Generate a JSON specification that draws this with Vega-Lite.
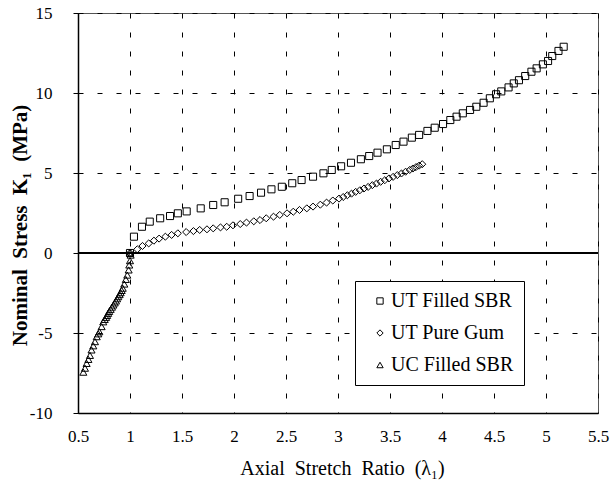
{
  "$schema": "https://vega.github.io/schema/vega-lite/v6.json",
  "width": 520,
  "height": 400,
  "autosize": {"type": "none"},
  "padding": {"left": 78, "top": 13, "right": 15, "bottom": 75},
  "background": "white",
  "config": {
    "font": "Liberation Serif",
    "view": {"stroke": "#555555", "strokeWidth": 1},
    "axis": {
      "grid": true,
      "gridColor": "black",
      "gridDash": [5, 14],
      "gridWidth": 1,
      "gridOpacity": 1,
      "domainColor": "black",
      "domainWidth": 1.5,
      "tickColor": "black",
      "tickSize": 4,
      "labelFont": "Liberation Serif",
      "labelFontSize": 17,
      "labelColor": "black",
      "titleFont": "Liberation Serif",
      "titleColor": "black"
    }
  },
  "data": {
    "values": [
      {"s": "UT Filled SBR", "x": 1.0, "y": 0.0},
      {"s": "UT Filled SBR", "x": 1.038, "y": 1.02},
      {"s": "UT Filled SBR", "x": 1.115, "y": 1.64},
      {"s": "UT Filled SBR", "x": 1.19, "y": 1.96},
      {"s": "UT Filled SBR", "x": 1.29, "y": 2.17},
      {"s": "UT Filled SBR", "x": 1.385, "y": 2.31},
      {"s": "UT Filled SBR", "x": 1.46, "y": 2.48},
      {"s": "UT Filled SBR", "x": 1.545, "y": 2.6},
      {"s": "UT Filled SBR", "x": 1.68, "y": 2.79},
      {"s": "UT Filled SBR", "x": 1.8, "y": 3.0},
      {"s": "UT Filled SBR", "x": 1.91, "y": 3.17},
      {"s": "UT Filled SBR", "x": 2.04, "y": 3.39},
      {"s": "UT Filled SBR", "x": 2.15, "y": 3.56},
      {"s": "UT Filled SBR", "x": 2.26, "y": 3.77},
      {"s": "UT Filled SBR", "x": 2.36, "y": 3.98},
      {"s": "UT Filled SBR", "x": 2.46, "y": 4.14},
      {"s": "UT Filled SBR", "x": 2.56, "y": 4.36},
      {"s": "UT Filled SBR", "x": 2.65, "y": 4.56},
      {"s": "UT Filled SBR", "x": 2.76, "y": 4.77},
      {"s": "UT Filled SBR", "x": 2.86, "y": 4.98},
      {"s": "UT Filled SBR", "x": 2.94, "y": 5.19},
      {"s": "UT Filled SBR", "x": 3.03, "y": 5.42},
      {"s": "UT Filled SBR", "x": 3.125, "y": 5.64},
      {"s": "UT Filled SBR", "x": 3.22, "y": 5.86},
      {"s": "UT Filled SBR", "x": 3.3, "y": 6.06},
      {"s": "UT Filled SBR", "x": 3.38, "y": 6.27},
      {"s": "UT Filled SBR", "x": 3.47, "y": 6.48},
      {"s": "UT Filled SBR", "x": 3.555, "y": 6.75},
      {"s": "UT Filled SBR", "x": 3.63, "y": 6.96},
      {"s": "UT Filled SBR", "x": 3.71, "y": 7.21},
      {"s": "UT Filled SBR", "x": 3.78, "y": 7.38},
      {"s": "UT Filled SBR", "x": 3.86, "y": 7.63},
      {"s": "UT Filled SBR", "x": 3.93, "y": 7.83},
      {"s": "UT Filled SBR", "x": 4.01, "y": 8.06},
      {"s": "UT Filled SBR", "x": 4.08, "y": 8.31},
      {"s": "UT Filled SBR", "x": 4.14, "y": 8.52},
      {"s": "UT Filled SBR", "x": 4.2, "y": 8.73},
      {"s": "UT Filled SBR", "x": 4.27, "y": 8.94},
      {"s": "UT Filled SBR", "x": 4.33, "y": 9.14},
      {"s": "UT Filled SBR", "x": 4.4, "y": 9.39},
      {"s": "UT Filled SBR", "x": 4.46, "y": 9.67},
      {"s": "UT Filled SBR", "x": 4.52, "y": 9.92},
      {"s": "UT Filled SBR", "x": 4.57, "y": 10.1},
      {"s": "UT Filled SBR", "x": 4.64, "y": 10.35},
      {"s": "UT Filled SBR", "x": 4.69, "y": 10.6},
      {"s": "UT Filled SBR", "x": 4.74, "y": 10.8},
      {"s": "UT Filled SBR", "x": 4.8, "y": 11.06},
      {"s": "UT Filled SBR", "x": 4.86, "y": 11.33},
      {"s": "UT Filled SBR", "x": 4.91, "y": 11.54},
      {"s": "UT Filled SBR", "x": 4.97, "y": 11.79},
      {"s": "UT Filled SBR", "x": 5.02, "y": 12.0},
      {"s": "UT Filled SBR", "x": 5.06, "y": 12.31},
      {"s": "UT Filled SBR", "x": 5.12, "y": 12.63},
      {"s": "UT Filled SBR", "x": 5.17, "y": 12.89},

      {"s": "UT Pure Gum", "x": 1.0, "y": 0.0},
      {"s": "UT Pure Gum", "x": 1.07, "y": 0.23},
      {"s": "UT Pure Gum", "x": 1.12, "y": 0.44},
      {"s": "UT Pure Gum", "x": 1.18, "y": 0.6},
      {"s": "UT Pure Gum", "x": 1.23, "y": 0.77},
      {"s": "UT Pure Gum", "x": 1.28, "y": 0.9},
      {"s": "UT Pure Gum", "x": 1.34, "y": 1.02},
      {"s": "UT Pure Gum", "x": 1.4, "y": 1.13},
      {"s": "UT Pure Gum", "x": 1.46, "y": 1.23},
      {"s": "UT Pure Gum", "x": 1.54, "y": 1.31},
      {"s": "UT Pure Gum", "x": 1.61, "y": 1.37},
      {"s": "UT Pure Gum", "x": 1.67, "y": 1.44},
      {"s": "UT Pure Gum", "x": 1.74, "y": 1.48},
      {"s": "UT Pure Gum", "x": 1.8, "y": 1.54},
      {"s": "UT Pure Gum", "x": 1.87, "y": 1.6},
      {"s": "UT Pure Gum", "x": 1.93, "y": 1.64},
      {"s": "UT Pure Gum", "x": 1.99, "y": 1.73},
      {"s": "UT Pure Gum", "x": 2.06, "y": 1.81},
      {"s": "UT Pure Gum", "x": 2.12, "y": 1.9},
      {"s": "UT Pure Gum", "x": 2.19, "y": 1.98},
      {"s": "UT Pure Gum", "x": 2.25, "y": 2.06},
      {"s": "UT Pure Gum", "x": 2.31, "y": 2.17},
      {"s": "UT Pure Gum", "x": 2.38, "y": 2.27},
      {"s": "UT Pure Gum", "x": 2.44, "y": 2.38},
      {"s": "UT Pure Gum", "x": 2.51, "y": 2.48},
      {"s": "UT Pure Gum", "x": 2.57, "y": 2.58},
      {"s": "UT Pure Gum", "x": 2.63, "y": 2.69},
      {"s": "UT Pure Gum", "x": 2.7, "y": 2.79},
      {"s": "UT Pure Gum", "x": 2.76, "y": 2.9},
      {"s": "UT Pure Gum", "x": 2.83, "y": 3.02},
      {"s": "UT Pure Gum", "x": 2.89, "y": 3.15},
      {"s": "UT Pure Gum", "x": 2.95, "y": 3.28},
      {"s": "UT Pure Gum", "x": 3.01, "y": 3.4},
      {"s": "UT Pure Gum", "x": 3.05, "y": 3.5},
      {"s": "UT Pure Gum", "x": 3.09, "y": 3.61},
      {"s": "UT Pure Gum", "x": 3.13, "y": 3.71},
      {"s": "UT Pure Gum", "x": 3.17, "y": 3.82},
      {"s": "UT Pure Gum", "x": 3.21, "y": 3.92},
      {"s": "UT Pure Gum", "x": 3.25, "y": 4.03},
      {"s": "UT Pure Gum", "x": 3.29, "y": 4.13},
      {"s": "UT Pure Gum", "x": 3.33, "y": 4.24},
      {"s": "UT Pure Gum", "x": 3.37, "y": 4.34},
      {"s": "UT Pure Gum", "x": 3.41, "y": 4.45},
      {"s": "UT Pure Gum", "x": 3.45, "y": 4.55},
      {"s": "UT Pure Gum", "x": 3.49, "y": 4.66},
      {"s": "UT Pure Gum", "x": 3.53, "y": 4.76},
      {"s": "UT Pure Gum", "x": 3.57, "y": 4.87},
      {"s": "UT Pure Gum", "x": 3.61, "y": 4.97},
      {"s": "UT Pure Gum", "x": 3.65, "y": 5.08},
      {"s": "UT Pure Gum", "x": 3.69, "y": 5.19},
      {"s": "UT Pure Gum", "x": 3.72, "y": 5.28},
      {"s": "UT Pure Gum", "x": 3.75, "y": 5.37},
      {"s": "UT Pure Gum", "x": 3.78, "y": 5.46},
      {"s": "UT Pure Gum", "x": 3.81, "y": 5.55},

      {"s": "UC Filled SBR", "x": 0.551, "y": -7.45},
      {"s": "UC Filled SBR", "x": 0.567, "y": -7.2},
      {"s": "UC Filled SBR", "x": 0.583, "y": -6.9},
      {"s": "UC Filled SBR", "x": 0.6, "y": -6.65},
      {"s": "UC Filled SBR", "x": 0.615, "y": -6.4},
      {"s": "UC Filled SBR", "x": 0.63, "y": -6.06},
      {"s": "UC Filled SBR", "x": 0.647, "y": -5.8},
      {"s": "UC Filled SBR", "x": 0.663, "y": -5.54},
      {"s": "UC Filled SBR", "x": 0.68, "y": -5.23},
      {"s": "UC Filled SBR", "x": 0.695, "y": -5.05},
      {"s": "UC Filled SBR", "x": 0.705, "y": -4.92},
      {"s": "UC Filled SBR", "x": 0.727, "y": -4.6},
      {"s": "UC Filled SBR", "x": 0.743, "y": -4.3},
      {"s": "UC Filled SBR", "x": 0.757, "y": -4.15},
      {"s": "UC Filled SBR", "x": 0.77, "y": -4.02},
      {"s": "UC Filled SBR", "x": 0.78, "y": -3.9},
      {"s": "UC Filled SBR", "x": 0.79, "y": -3.77},
      {"s": "UC Filled SBR", "x": 0.8, "y": -3.65},
      {"s": "UC Filled SBR", "x": 0.814, "y": -3.52},
      {"s": "UC Filled SBR", "x": 0.827, "y": -3.38},
      {"s": "UC Filled SBR", "x": 0.84, "y": -3.25},
      {"s": "UC Filled SBR", "x": 0.853, "y": -3.12},
      {"s": "UC Filled SBR", "x": 0.865, "y": -3.0},
      {"s": "UC Filled SBR", "x": 0.876, "y": -2.86},
      {"s": "UC Filled SBR", "x": 0.887, "y": -2.73},
      {"s": "UC Filled SBR", "x": 0.9, "y": -2.6},
      {"s": "UC Filled SBR", "x": 0.91, "y": -2.48},
      {"s": "UC Filled SBR", "x": 0.92, "y": -2.34},
      {"s": "UC Filled SBR", "x": 0.93, "y": -2.2},
      {"s": "UC Filled SBR", "x": 0.945, "y": -1.94},
      {"s": "UC Filled SBR", "x": 0.96, "y": -1.65},
      {"s": "UC Filled SBR", "x": 0.974, "y": -1.38},
      {"s": "UC Filled SBR", "x": 0.987, "y": -1.06},
      {"s": "UC Filled SBR", "x": 0.993, "y": -0.75},
      {"s": "UC Filled SBR", "x": 1.0, "y": -0.48},
      {"s": "UC Filled SBR", "x": 1.006, "y": -0.13},
      {"s": "UC Filled SBR", "x": 1.0, "y": 0.0}
    ]
  },
  "layer": [
    {
      "mark": {"type": "rule", "color": "black", "strokeWidth": 1.2},
      "encoding": {"y": {"datum": 0, "type": "quantitative"}}
    },
    {
      "mark": {"type": "point", "filled": false, "strokeWidth": 1, "opacity": 1, "size": 50},
      "encoding": {
        "x": {
          "field": "x",
          "type": "quantitative",
          "scale": {"domain": [0.5, 5.5], "nice": false, "zero": false},
          "axis": {
            "values": [0.5, 1, 1.5, 2, 2.5, 3, 3.5, 4, 4.5, 5, 5.5],
            "labelExpr": "'' + datum.value",
            "title": "Axial\u00a0 Stretch\u00a0 Ratio\u00a0 (λ₁)",
            "titleFontSize": 20,
            "titleFontWeight": "normal",
            "titleX": 264,
            "titleY": 55,
            "titleBaseline": "middle",
            "labelPadding": 15,
            "labelFlush": false,
            "tickSize": 0
          }
        },
        "y": {
          "field": "y",
          "type": "quantitative",
          "scale": {"domain": [-10, 15], "nice": false, "zero": false},
          "axis": {
            "values": [-10, -5, 0, 5, 10, 15],
            "labelExpr": "'' + datum.value",
            "title": "Nominal\u00a0 Stress\u00a0 K₁\u00a0 (MPa)",
            "titleFontSize": 21,
            "titleFontWeight": "bold",
            "titleAngle": -90,
            "titleAlign": "center",
            "titleBaseline": "middle",
            "titleX": -58,
            "titleY": 212,
            "labelPadding": 21,
            "labelFlush": false,
            "tickSize": 5
          }
        },
        "shape": {
          "field": "s",
          "type": "nominal",
          "scale": {
            "domain": ["UT Filled SBR", "UT Pure Gum", "UC Filled SBR"],
            "range": ["square", "diamond", "triangle-up"]
          },
          "legend": {
            "title": null,
            "orient": "none",
            "legendX": 277,
            "legendY": 268,
            "strokeColor": "black",
            "fillColor": "white",
            "padding": 10,
            "symbolOffset": 5,
            "symbolSize": 40,
            "symbolStrokeColor": "black",
            "symbolStrokeWidth": 1,
            "symbolFillColor": "white",
            "labelFont": "Liberation Serif",
            "labelFontSize": 20,
            "labelColor": "black",
            "labelOffset": 1,
            "rowPadding": 12
          }
        },
        "color": {"value": "black"}
      }
    }
  ]
}
